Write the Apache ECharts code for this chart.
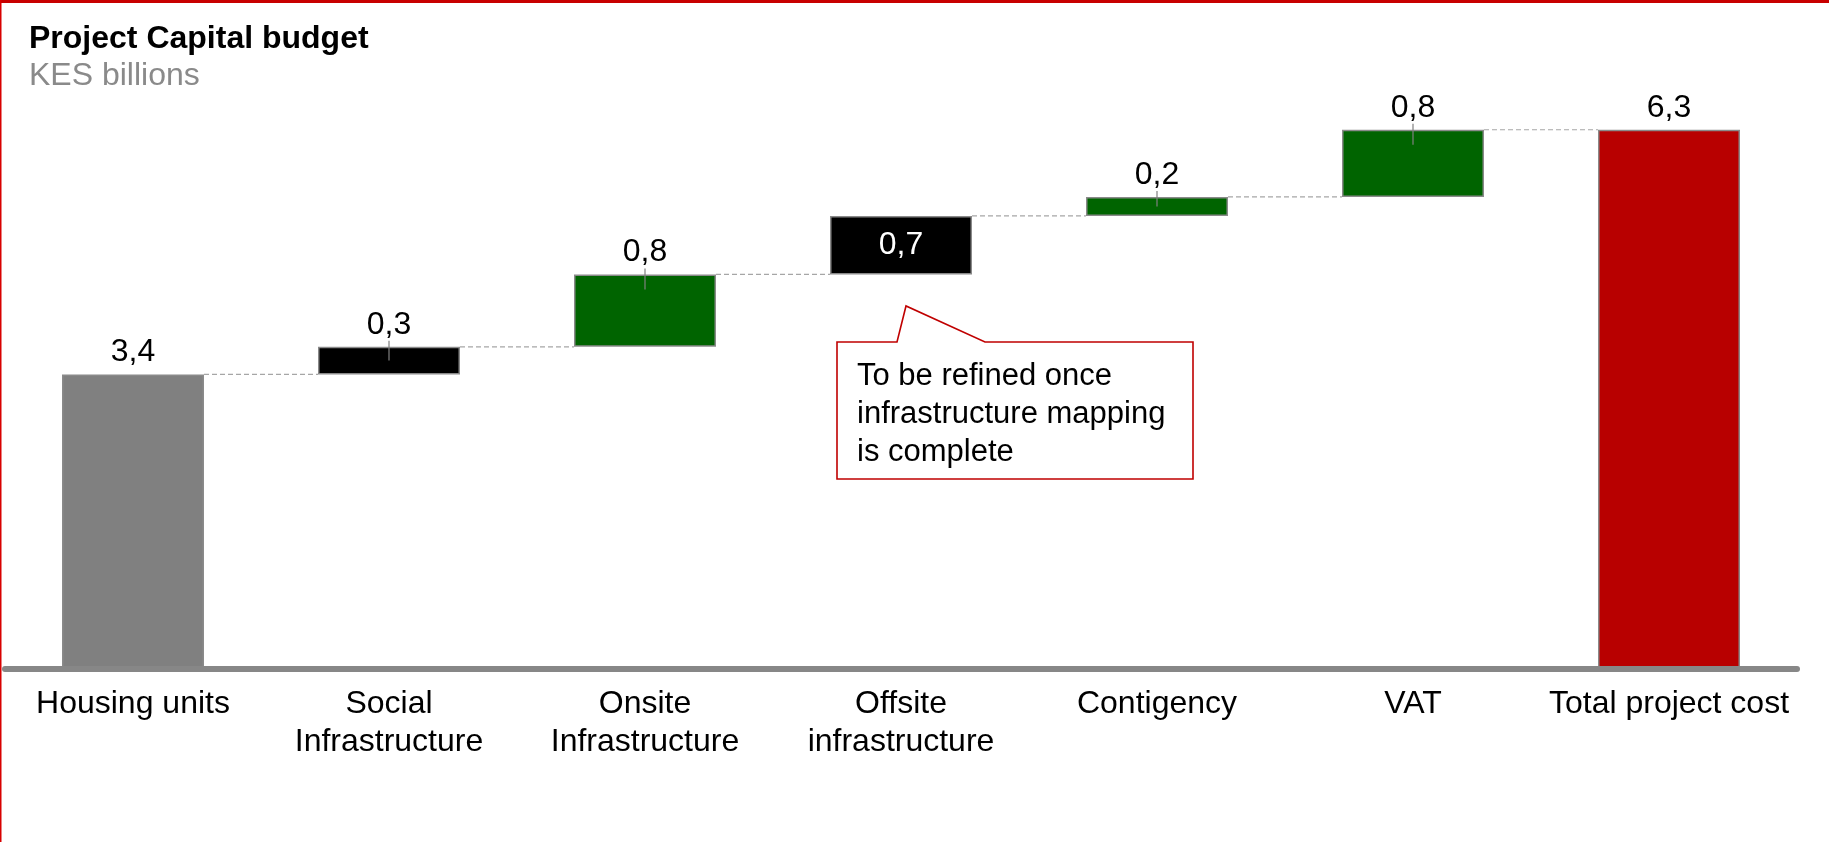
<!DOCTYPE html>
<html>
<head>
<meta charset="utf-8">
<title>Project Capital budget</title>
<script src="https://cdn.jsdelivr.net/npm/echarts@6/dist/echarts.min.js"></script>
<style>
  html, body { margin: 0; padding: 0; background: #ffffff; }
  #chart { width: 1829px; height: 842px; }
</style>
</head>
<body>
<div id="chart"></div>
<script>
// data (KES billions)
var categories = ['Housing units', 'Social\nInfrastructure', 'Onsite\nInfrastructure',
  'Offsite\ninfrastructure', 'Contigency', 'VAT', 'Total project cost'];
var steps = [3.42, 0.32, 0.84, 0.68, 0.22, 0.78];   // first is the starting block
var barColors = ['#808080', '#000000', '#006400', '#000000', '#006400', '#006400', '#b80000'];
var insideLabel = [false, false, false, true, false, false, false];

var FONT = '"Liberation Sans", Arial, Helvetica, sans-serif';
var BAR_W = 142;

// build waterfall bases / heights
var bases = [], heights = [], ends = [];
var run = 0;
steps.forEach(function (s, i) {
  bases.push(i === 0 ? 0 : run);
  heights.push(s);
  run += s;
  ends.push(run);
});
var total = run;
bases.push(0);
heights.push(total);
ends.push(total);

function fmt(v) {
  return v.toFixed(1).replace('.', ',');
}

var chart = echarts.init(document.getElementById('chart'));

var option = {
  animation: false,
  title: {
    text: 'Project Capital budget',
    subtext: 'KES billions',
    left: 29,
    top: 23,
    padding: 0,
    itemGap: 5,
    textStyle: { fontFamily: FONT, fontSize: 32, fontWeight: 'bold', color: '#000', lineHeight: 32 },
    subtextStyle: { fontFamily: FONT, fontSize: 32, color: '#8a8a8a', lineHeight: 32 }
  },
  grid: { left: 5, right: 32, top: 66, height: 603 },
  xAxis: {
    type: 'category',
    data: categories,
    z: 3,
    axisLine: { lineStyle: { color: '#878787', width: 6 } },
    axisTick: { show: false },
    axisLabel: {
      interval: 0,
      margin: 16,
      fontFamily: FONT,
      fontSize: 32,
      lineHeight: 38,
      color: '#000'
    }
  },
  yAxis: { type: 'value', min: 0, max: 7, show: false },
  series: [
    {
      name: 'base',
      type: 'bar',
      stack: 'w',
      barWidth: BAR_W,
      silent: true,
      itemStyle: { color: 'transparent' },
      data: bases
    },
    {
      name: 'value',
      type: 'bar',
      stack: 'w',
      barWidth: BAR_W,
      data: heights.map(function (h, i) {
        return {
          value: h,
          itemStyle: { color: barColors[i], borderColor: '#8a8a8a', borderWidth: 1.5 },
          label: insideLabel[i]
            ? { position: 'inside', color: '#fff', distance: 0 }
            : { position: 'top', color: '#000', distance: 6 }
        };
      }),
      label: {
        show: true,
        fontFamily: FONT,
        fontSize: 32,
        lineHeight: 32,
        formatter: function (p) { return fmt(p.value); }
      }
    },
    {
      // dashed connectors between bars and the small ticks under the labels
      name: 'guides',
      type: 'custom',
      silent: true,
      z: 4,
      data: ends.map(function (e, i) { return [i, e, bases[i]]; }),
      renderItem: function (params, api) {
        var i = api.value(0);
        var end = api.value(1);
        var start = api.value(2);
        var kids = [];
        var p = api.coord([i, end]);
        var half = BAR_W / 2;
        if (i < categories.length - 1) {
          var q = api.coord([i + 1, end]);
          kids.push({
            type: 'line',
            shape: { x1: p[0] + half, y1: p[1], x2: q[0] - half, y2: p[1] },
            style: { stroke: '#a6a6a6', lineWidth: 1.2, lineDash: [5, 3] }
          });
        }
        if (i > 0 && i < categories.length - 1 && !insideLabel[i]) {
          var bottom = api.coord([i, start])[1];
          var len = Math.min(15, (bottom - p[1]) * 0.5);
          kids.push({
            type: 'line',
            shape: { x1: p[0], y1: p[1] - 6, x2: p[0], y2: p[1] + len },
            style: { stroke: '#808080', lineWidth: 1.2 }
          });
        }
        return { type: 'group', children: kids };
      }
    }
  ],
  graphic: [
    { type: 'rect', shape: { x: 0, y: 0, width: 1829, height: 3 }, style: { fill: '#c80000' }, z: 10 },
    { type: 'rect', shape: { x: 0, y: 0, width: 1.5, height: 842 }, style: { fill: '#d80000' }, z: 10 },
    {
      // callout box
      type: 'polygon',
      z: 10,
      shape: {
        points: [[837, 342], [897, 342], [906, 306], [985, 342], [1193, 342], [1193, 479], [837, 479]]
      },
      style: { fill: '#fff', stroke: '#c00000', lineWidth: 1.6 }
    },
    {
      type: 'text',
      z: 11,
      left: 857,
      top: 357,
      style: {
        text: 'To be refined once\ninfrastructure mapping\nis complete',
        font: '31px ' + FONT,
        lineHeight: 38,
        fill: '#000'
      }
    }
  ]
};

chart.setOption(option);
window.onresize = function () {
  chart.resize();
};
</script>
</body>
</html>
